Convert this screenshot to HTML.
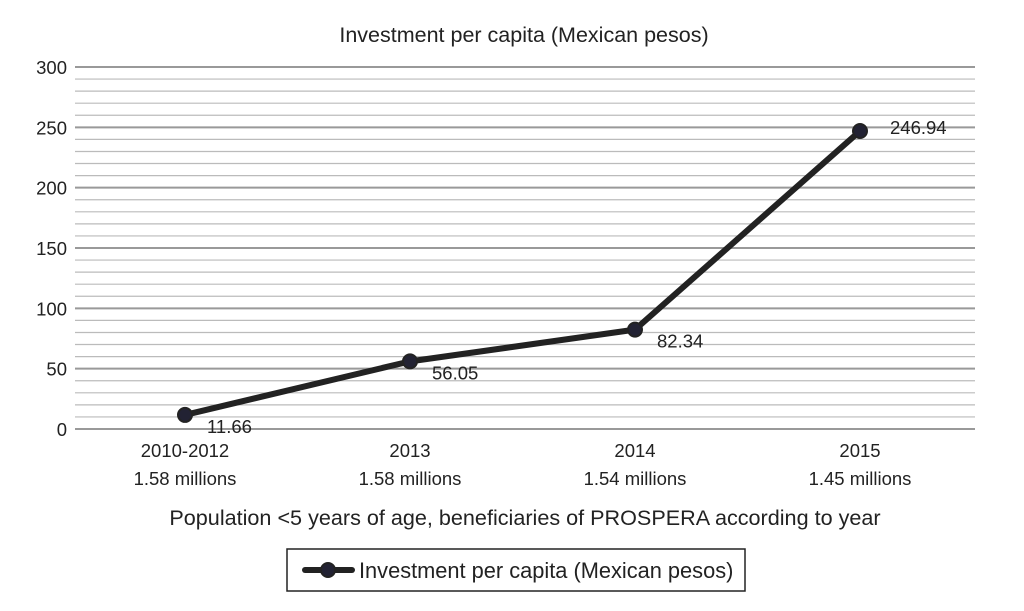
<!DOCTYPE html>
<html><head><meta charset="utf-8"><style>
body{margin:0;background:#fff;}
svg text{font-family:"Liberation Sans",Arial,sans-serif;fill:#222;}
</style></head><body>
<svg width="1024" height="606" xmlns="http://www.w3.org/2000/svg">
<text x="524" y="42" font-size="21.5" text-anchor="middle">Investment per capita (Mexican pesos)</text>
<g id="grid"></g><g id="yticks"></g><g id="xticks"></g><g id="series"></g>
<text x="525" y="525" font-size="21.6" text-anchor="middle">Population &lt;5 years of age, beneficiaries of PROSPERA according to year</text>
<g>
<rect x="287" y="549" width="458" height="42" fill="#fff" stroke="#222" stroke-width="1.5"/>
<line x1="305" y1="570" x2="352" y2="570" stroke="#222" stroke-width="6" stroke-linecap="round"/>
<circle cx="328" cy="570" r="7" fill="#223" stroke="#222" stroke-width="2"/>
<text x="359" y="578" font-size="21.8">Investment per capita (Mexican pesos)</text>
</g>
</svg>
<script>
const categories=["2010-2012","2013","2014","2015"];
const subLabels=["1.58 millions","1.58 millions","1.54 millions","1.45 millions"];
const values=[11.66,56.05,82.34,246.94];
const valueLabels=["11.66","56.05","82.34","246.94"];
const yTicks=[0,50,100,150,200,250,300];
const NS="http://www.w3.org/2000/svg";
const x0=72.5,x1=972.5,yb=429,yt=67;
const y=v=>yb-(v/300)*(yb-yt);
const xc=i=>x0+(i+0.5)*(x1-x0)/categories.length;
function mk(t,a,p){const e=document.createElementNS(NS,t);for(const k in a)e.setAttribute(k,a[k]);p.appendChild(e);return e;}
const grid=document.getElementById('grid');
for(let v=0;v<=300;v+=10){const major=v%50===0;
const l=mk('line',{x1:75,x2:975,y1:y(v),y2:y(v),stroke:major?'#999':'#bbb','stroke-width':major?2:1.2},grid);

}
const yg=document.getElementById('yticks');
yTicks.forEach(v=>{const t=mk('text',{x:67,y:y(v)+7,'font-size':18.5,'text-anchor':'end'},yg);t.textContent=v;

});
const xg=document.getElementById('xticks');
categories.forEach((c,i)=>{const t=mk('text',{x:xc(i),y:457,'font-size':18.5,'text-anchor':'middle'},xg);t.textContent=c;


const s=mk('text',{x:xc(i),y:485,'font-size':18.5,'text-anchor':'middle'},xg);s.textContent=subLabels[i];

});
const sg=document.getElementById('series');
const pl=mk('polyline',{points:values.map((v,i)=>xc(i)+','+y(v)).join(' '),fill:'none',stroke:'#222','stroke-width':6,'stroke-linejoin':'round'},sg);


values.forEach((v,i)=>{const c=mk('circle',{cx:xc(i),cy:y(v),r:7,fill:'#223',stroke:'#222','stroke-width':2},sg);


const t=mk('text',{x:xc(i)+(i===3?30:22),y:y(v)+(i===3?3:18),'font-size':18.5},sg);t.textContent=valueLabels[i];

});
</script>
</body></html>
